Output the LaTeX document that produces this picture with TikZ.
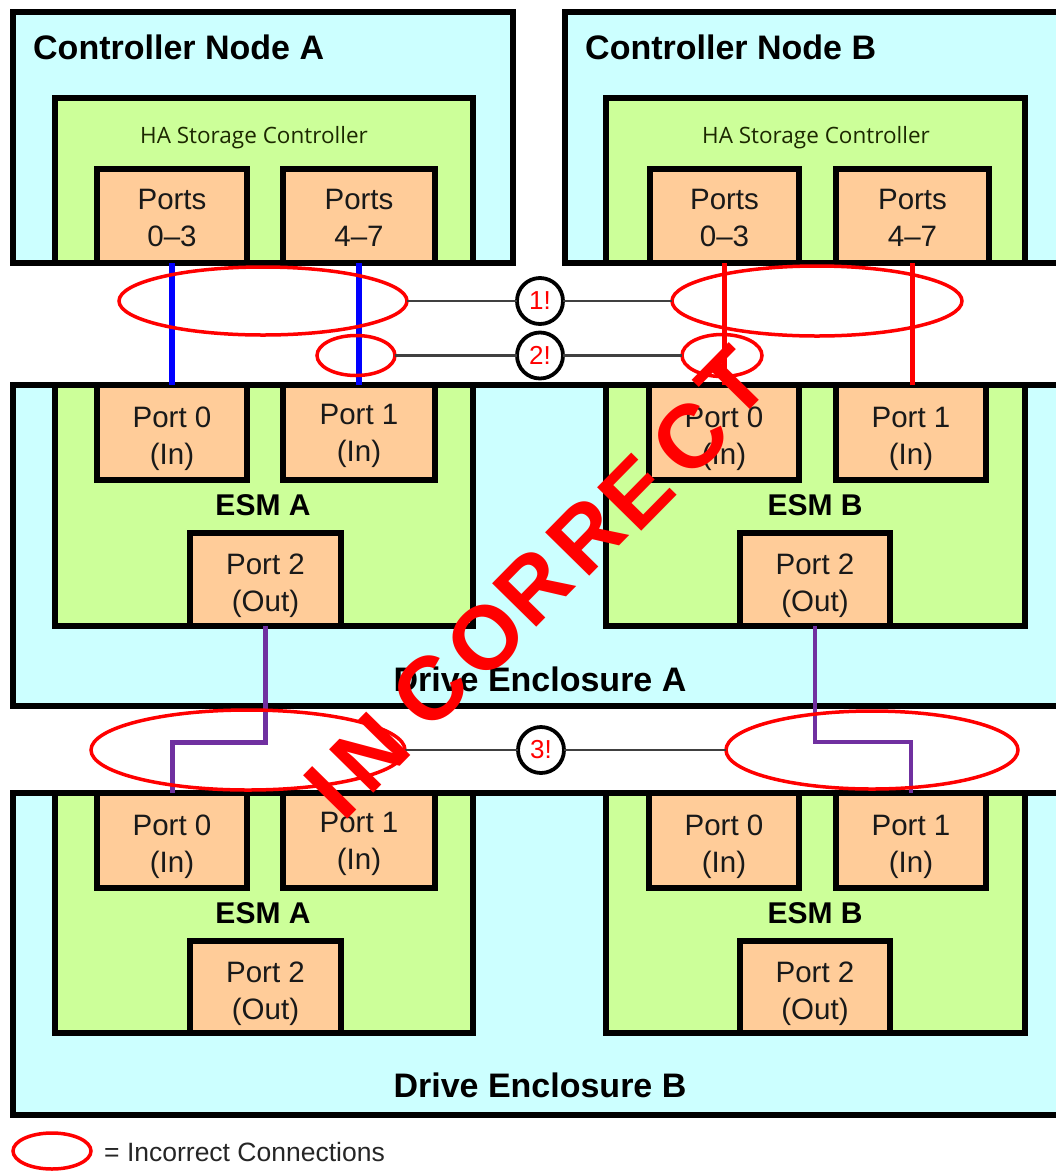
\documentclass[tikz,border=0pt]{standalone}
\usepackage{fontspec}
\setmainfont{Liberation Sans}
\newfontfamily\hafont{Open Sans}
\usetikzlibrary{shapes.geometric}
\definecolor{cyanbg}{HTML}{CCFFFF}
\definecolor{greenbg}{HTML}{CCFF99}
\definecolor{orangebg}{HTML}{FFCC99}
\definecolor{purp}{HTML}{7030A0}
\definecolor{greyline}{HTML}{404040}
\definecolor{hatext}{HTML}{1C2800}
\newcommand\mybox[7]{%
  \pgfmathsetmacro\bxw{#5-#3}\pgfmathsetmacro\bxh{#6-#4}%
  \pgfmathsetmacro\bxcx{(#3+#5)/2}\pgfmathsetmacro\bxcy{(#4+#6)/2}%
  \node[#2, minimum width=\bxw pt, minimum height=\bxh pt] (#1) at (\bxcx,\bxcy) {#7};}
% port box: name, x1, y1, x2, y2, text, text shift
\newcommand\myport[7]{%
  \mybox{#1}{portbox}{#2}{#3}{#4}{#5}{}%
  \node[porttxt] (#1t) at ([yshift=-#7pt]#1.center) {#6};}
\tikzset{
  encl/.style={draw=black, fill=cyanbg, line width=5.5pt, inner sep=0pt, outer sep=0pt},
  esm/.style={draw=black, fill=greenbg, line width=6.5pt, inner sep=0pt, outer sep=0pt},
  portbox/.style={draw=black, fill=orangebg, line width=6.5pt, inner sep=0pt, outer sep=0pt},
  porttxt/.style={align=center, inner sep=0pt, text=black!90, font=\fontsize{29.5pt}{37pt}\selectfont},
  titletxt/.style={font=\fontsize{34pt}{38pt}\selectfont\bfseries, inner sep=0pt},
  esmtxt/.style={font=\fontsize{30pt}{34pt}\selectfont\bfseries, inner sep=0pt},
  hatxt/.style={font=\fontsize{22.5pt}{26pt}\selectfont\hafont, inner sep=0pt, text=hatext},
  blueline/.style={draw=blue, line width=5.5pt},
  redline/.style={draw=red, line width=5.5pt},
  purpline/.style={draw=purp, line width=#1},
  redell/.style={ellipse, draw=red, line width=3.5pt, inner sep=0pt, outer sep=0pt},
  greyconn/.style={draw=greyline, line width=2.2pt},
  numcirc/.style={circle, draw=black, line width=3.8pt, fill=white, minimum size=46pt, inner sep=0pt,
    outer sep=0pt, text=red, font=\fontsize{26pt}{28pt}\selectfont},
  incor/.style={text=red, font=\fontsize{90pt}{94pt}\selectfont\bfseries, inner sep=0pt, rotate=45.5},
}
\begin{document}
\begin{tikzpicture}[x=1pt,y=-1pt]
\clip (0,0) rectangle (1056,1171);
\fill[white] (0,0) rectangle (1056,1171);
% ---------- Controller Node A ----------
\mybox{cna}{encl}{13}{12}{513}{263}{}
\mybox{haa}{esm}{55}{98}{473}{263}{}
\myport{pa03}{97}{169}{247}{263}{Ports\\0--3}{1.5}
\myport{pa47}{283}{169}{435}{263}{Ports\\4--7}{1.5}
\node[titletxt, anchor=west] (tna) at (33,47) {Controller Node A};
\node[hatxt] (hta) at (254,138) {HA Storage Controller};
% ---------- Controller Node B ----------
\mybox{cnb}{encl}{565}{12}{1070}{263}{}
\mybox{hab}{esm}{606}{98}{1025}{263}{}
\myport{pb03}{650}{169}{799}{263}{Ports\\0--3}{1.5}
\myport{pb47}{836}{169}{989}{263}{Ports\\4--7}{1.5}
\node[titletxt, anchor=west] (tnb) at (585,47) {Controller Node B};
\node[hatxt] (htb) at (816,138) {HA Storage Controller};
% ---------- Drive Enclosure A ----------
\mybox{dea}{encl}{13}{385}{1070}{706}{}
\mybox{esmaa}{esm}{55}{385}{473}{626}{}
\myport{aa0}{97}{385}{247}{480}{Port 0\\(In)}{6}
\myport{aa1}{283}{385}{435}{480}{Port 1\\(In)}{3}
\myport{aa2}{190}{533}{341}{626}{Port 2\\(Out)}{6.5}
\node[esmtxt] (laa) at (263,505) {ESM A};
\mybox{esmab}{esm}{606}{385}{1025}{626}{}
\myport{ab0}{649}{385}{799}{480}{Port 0\\(In)}{6}
\myport{ab1}{836}{385}{986}{480}{Port 1\\(In)}{6}
\myport{ab2}{740}{533}{890}{626}{Port 2\\(Out)}{6.5}
\node[esmtxt] (lab) at (815,505) {ESM B};
\node[titletxt] (tdea) at (540,679) {Drive Enclosure A};
% ---------- Drive Enclosure B ----------
\mybox{deb}{encl}{13}{793}{1070}{1115}{}
\mybox{esmba}{esm}{55}{793}{473}{1033}{}
\myport{ba0}{97}{793}{247}{888}{Port 0\\(In)}{6}
\myport{ba1}{283}{793}{435}{888}{Port 1\\(In)}{3}
\myport{ba2}{190}{941}{341}{1033}{Port 2\\(Out)}{6.5}
\node[esmtxt] (lba) at (263,913) {ESM A};
\mybox{esmbb}{esm}{606}{793}{1025}{1033}{}
\myport{bb0}{649}{793}{799}{888}{Port 0\\(In)}{6}
\myport{bb1}{836}{793}{986}{888}{Port 1\\(In)}{6}
\myport{bb2}{740}{941}{890}{1033}{Port 2\\(Out)}{6.5}
\node[esmtxt] (lbb) at (815,913) {ESM B};
\node[titletxt] (tdeb) at (540,1085) {Drive Enclosure B};
% ---------- cables ----------
\coordinate (kink) at (540,742);
\draw[blueline] (pa03.south) -- (pa03.south |- aa0.north);
\draw[blueline] (pa47.south) -- (pa47.south |- aa1.north);
\draw[redline] (pb03.south) -- (pb03.south |- ab0.north);
\draw[redline] (pb47.south) -- (pb47.south |- ab1.north);
\draw[purpline=5pt] (aa2.south) -- (aa2.south |- kink) -- (ba0.north |- kink) -- (ba0.north);
\draw[purpline=3.5pt] (ab2.south) -- (ab2.south |- kink) -- (bb1.north |- kink) -- (bb1.north);
% ---------- markers ----------
\node[redell, minimum width=288pt, minimum height=68pt] (e1a) at (263,301) {};
\node[redell, minimum width=78pt, minimum height=40pt] (e2a) at (356,355.5) {};
\node[redell, minimum width=290pt, minimum height=70pt] (e1b) at (817,301) {};
\node[redell, minimum width=80pt, minimum height=42pt] (e2b) at (722,355.5) {};
\node[redell, minimum width=314pt, minimum height=80pt] (e3a) at (248,750) {};
\node[redell, minimum width=292pt, minimum height=78pt] (e3b) at (872,750) {};
\node[numcirc] (c1) at (540,301) {1!};
\node[numcirc] (c2) at (540,355.5) {2!};
\node[numcirc] (c3) at (541,750) {3!};
\draw[greyconn] (e1a.east) -- (c1.west);
\draw[greyconn] (c1.east) -- (e1b.west);
\draw[greyconn] (e2a.east) -- (c2.west);
\draw[greyconn] (c2.east) -- (e2b.west);
\draw[greyconn] (e3a.east) -- (c3.west);
\draw[greyconn] (c3.east) -- (e3b.west);
% ---------- INCORRECT ----------
\node[incor] (w1) at (330,793) {I};
\node[incor] (w2) at (370,753) {N};
\node[incor] (w3) at (430,690) {C};
\node[incor] (w4) at (486,638) {O};
\node[incor] (w5) at (533,587) {R};
\node[incor] (w6) at (586,536) {R};
\node[incor] (w7) at (636,492) {E};
\node[incor] (w8) at (690,438) {C};
\node[incor] (w9) at (733,383) {T};
% ---------- legend ----------
\node[redell, minimum width=78pt, minimum height=36pt] (leg) at (52,1151) {};
\node[anchor=west, inner sep=0pt, font=\fontsize{26.5pt}{28pt}\selectfont, text=black!85] (legt) at (104,1152) {= Incorrect Connections};
\end{tikzpicture}
\end{document}
